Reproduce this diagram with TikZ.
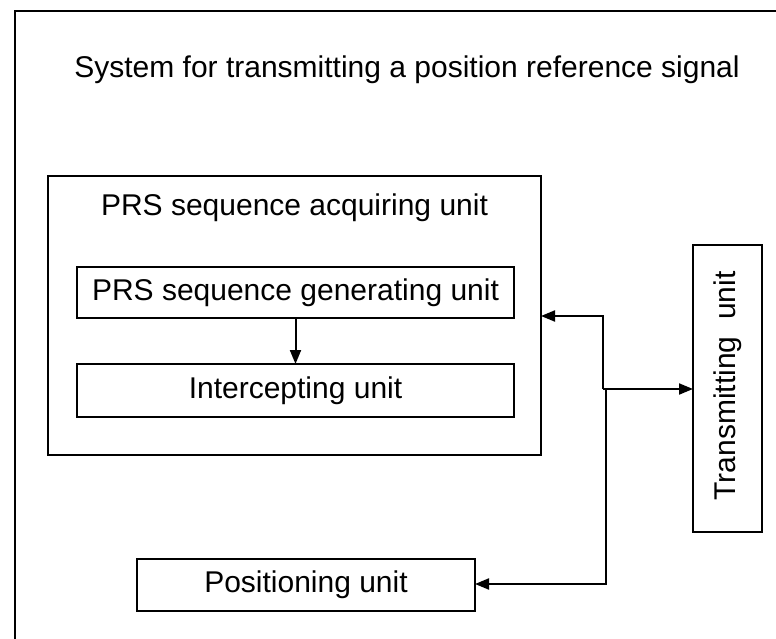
\documentclass[tikz,border=0pt]{standalone}
\usepackage{fontspec}
\setmainfont{Liberation Sans}
\usetikzlibrary{arrows.meta}
\begin{document}
\begin{tikzpicture}[x=1pt,y=-1pt,
  line width=2pt,
  box/.style={draw, line width=2pt, inner sep=0pt, outer sep=0pt, anchor=center},
  lbl/.style={inner sep=0pt, font=\fontsize{30}{34}\selectfont},
  arr/.style={-{Triangle[length=14pt,width=11pt]}, line width=2pt}]
\useasboundingbox (0,0) rectangle (776,639);
% outer frame (top and left edges visible)
\coordinate (fbl) at (15,639);
\coordinate (ftl) at (15,11);
\coordinate (ftr) at (776,11);
\draw[line width=2.2pt] (fbl) -- (ftl) -- (ftr);
% title
\node[lbl] (title) at (407,70) {System for transmitting a position reference signal};
% boxes
\node[box, minimum width=493pt, minimum height=279pt] (acq) at (294.5,315.5) {};
\node[lbl] (acqt) at (294.5,208) {PRS sequence acquiring unit};
\node[box, lbl, minimum width=437pt, minimum height=51pt] (gen) at (295.5,292.5) {PRS sequence generating unit};
\node[box, lbl, minimum width=437pt, minimum height=53pt] (int) at (295.5,390.5) {Intercepting unit};
\node[box, minimum width=69pt, minimum height=287pt] (trans) at (727.5,388.5) {};
\node[lbl, rotate=90] (transt) at (727.5,386) {Transmitting\ \ unit};
\node[box, lbl, minimum width=338pt, minimum height=52pt] (pos) at (306,585) {Positioning unit};
% connectors
\draw[arr] (gen.south) -- (int.north);
\coordinate (j1) at (603,389);
\coordinate (ja) at (603,316);
\coordinate (j2) at (606,389);
\coordinate (jb) at (606,584);
\draw[arr] (j1) -- (ja) -- (acq.east |- ja);
\draw[arr] (j1) -- (trans.west |- j1);
\draw[arr] (j2) -- (jb) -- (pos.east |- jb);
\end{tikzpicture}
\end{document}
